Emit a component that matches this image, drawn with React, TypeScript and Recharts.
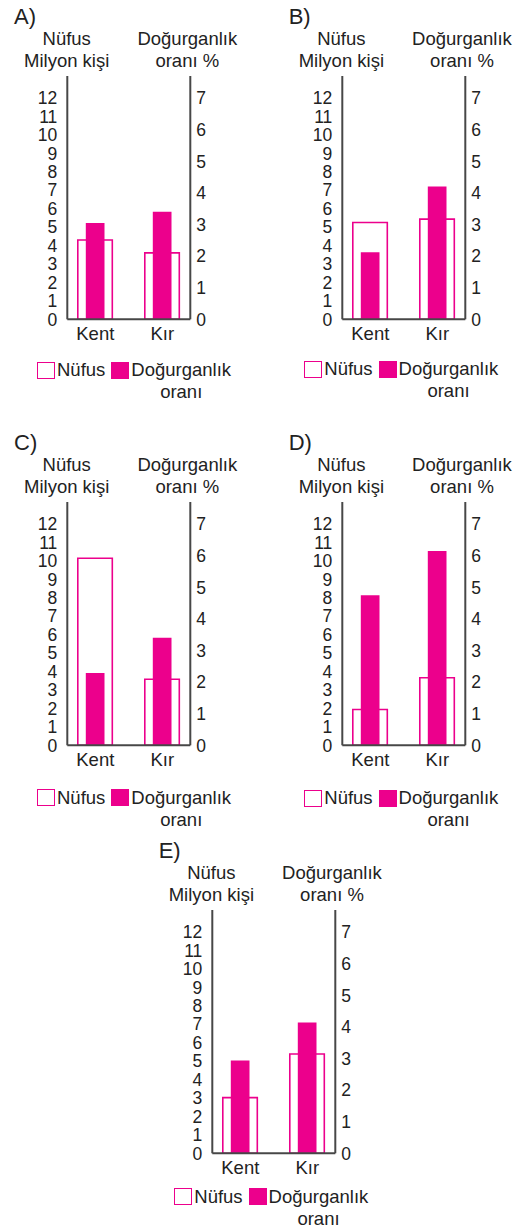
import React from 'react';
import { BarChart, Bar, XAxis, YAxis, Legend } from 'recharts';

const CATEGORIES = ['Kent', 'Kır'];
const OPTION_LABELS = ['A)', 'B)', 'C)', 'D)', 'E)'];
const NUFUS_A = [4.3, 3.6];
const DOG_A = [3.05, 3.4];
const NUFUS_B = [5.25, 5.43];
const DOG_B = [2.12, 4.2];
const NUFUS_C = [10.14, 3.58];
const DOG_C = [2.29, 3.4];
const NUFUS_D = [1.94, 3.66];
const DOG_D = [4.75, 6.15];
const NUFUS_E = [3.02, 5.38];
const DOG_E = [2.94, 4.14];
const LEFT_TICKS = [0, 1, 2, 3, 4, 5, 6, 7, 8, 9, 10, 11, 12];
const RIGHT_TICKS = [0, 1, 2, 3, 4, 5, 6, 7];
const LEFT_TITLE = ['Nüfus', 'Milyon kişi'];
const RIGHT_TITLE = ['Doğurganlık', 'oranı %'];
const NUFUS_NAME = 'Nüfus';
const DOG_NAME = 'Doğurganlık oranı';
const LEGEND_ORDER = ['nufus', 'dogurganlik'];

const FONT = '"Liberation Sans", Arial, Helvetica, sans-serif';
const PINK = '#EC008C';
const AXIS = '#474747';
const TEXT = '#222';
const W = 260;
const H = 396;
const PLOT_LEFT = 67.3;
const PLOT_RIGHT = 190.3;
const PLOT_TOP = 76;
const PLOT_BOTTOM = 319.3;
const YW = 45;
const XH = 30;

type Props = {
  label: string;
  nufus: number[];
  dog: number[];
  x: number;
  y: number;
  legendX: number;
  legendY: number;
};

function LegendContent(props: any) {
  const payload = [...(props.payload || [])].sort(
    (a: any, b: any) => LEGEND_ORDER.indexOf(a.dataKey) - LEGEND_ORDER.indexOf(b.dataKey)
  );
  return (
    <div style={{ display: 'flex', alignItems: 'flex-start', fontFamily: FONT, fontSize: 18.5, color: TEXT, whiteSpace: 'nowrap' }}>
      {payload.map((p: any, i: number) => {
        const hollow = p.dataKey === 'nufus';
        const words = String(p.value).split(' ');
        return (
          <div key={i} style={{ display: 'flex', alignItems: 'flex-start', marginLeft: i === 0 ? 0 : 6 }}>
            <div style={{ width: 18, height: 17, boxSizing: 'border-box', border: `1.6px solid ${PINK}`, background: hollow ? '#fff' : PINK }} />
            <div style={{ marginLeft: 2, marginTop: -2.5, lineHeight: '22px', textAlign: 'center' }}>
              {words.map((w, j) => (
                <div key={j}>{w}</div>
              ))}
            </div>
          </div>
        );
      })}
    </div>
  );
}

function OptionChart({ label, nufus, dog, x, y, legendX, legendY }: Props) {
  const data = CATEGORIES.map((c, i) => ({ kategori: c, nufus: nufus[i], dogurganlik: dog[i] }));
  const headerStyle: React.CSSProperties = {
    position: 'absolute',
    top: 28,
    transform: 'translateX(-50%)',
    textAlign: 'center',
    lineHeight: '22px',
    fontSize: 18.5,
    whiteSpace: 'nowrap',
  };
  return (
    <div style={{ position: 'absolute', left: x, top: y, width: W, height: H, fontFamily: FONT, color: TEXT }}>
      <div style={{ position: 'absolute', left: 14, top: 5, fontSize: 22, lineHeight: '24px' }}>{label}</div>
      <div style={{ ...headerStyle, left: PLOT_LEFT - 0.6 }}>
        {LEFT_TITLE.map((t) => (
          <div key={t}>{t}</div>
        ))}
      </div>
      <div style={{ ...headerStyle, left: PLOT_RIGHT - 3 }}>
        {RIGHT_TITLE.map((t) => (
          <div key={t}>{t}</div>
        ))}
      </div>
      <BarChart
        width={W}
        height={H}
        data={data}
        margin={{ top: PLOT_TOP, left: PLOT_LEFT - YW, right: W - PLOT_RIGHT - YW, bottom: H - PLOT_BOTTOM - XH }}
      >
        <XAxis
          xAxisId="main"
          dataKey="kategori"
          height={XH}
          padding={{ left: -5.5, right: -5.5 }}
          axisLine={{ stroke: AXIS, strokeWidth: 2 }}
          tickLine={false}
          tick={{ fontSize: 18.5, fill: TEXT, fontFamily: FONT }}
          interval={0}
        />
        <XAxis xAxisId="over" dataKey="kategori" hide padding={{ left: -5.5, right: -5.5 }} />
        <YAxis
          yAxisId="left"
          orientation="left"
          width={YW}
          type="number"
          domain={[0, 13.19]}
          ticks={LEFT_TICKS}
          interval={0}
          axisLine={{ stroke: AXIS, strokeWidth: 2 }}
          tickLine={false}
          tickMargin={4}
          tick={{ fontSize: 17.5, fill: TEXT, fontFamily: FONT }}
        />
        <YAxis
          yAxisId="right"
          orientation="right"
          width={YW}
          type="number"
          domain={[0, 7.7]}
          ticks={RIGHT_TICKS}
          interval={0}
          axisLine={{ stroke: AXIS, strokeWidth: 2 }}
          tickLine={false}
          tickMargin={0}
          tick={{ fontSize: 17.5, fill: TEXT, fontFamily: FONT, textAnchor: 'start' }}
        />
        <Bar
          xAxisId="main"
          yAxisId="left"
          dataKey="nufus"
          name={NUFUS_NAME}
          fill="#fff"
          stroke={PINK}
          strokeWidth={1.6}
          barSize={34.5}
          isAnimationActive={false}
        />
        <Bar
          xAxisId="over"
          yAxisId="right"
          dataKey="dogurganlik"
          name={DOG_NAME}
          fill={PINK}
          barSize={18.7}
          isAnimationActive={false}
        />
        <Legend
          layout="horizontal"
          verticalAlign="middle"
          align="center"
          content={<LegendContent />}
          wrapperStyle={{ left: legendX, top: legendY, width: 'auto', height: 'auto' }}
        />
      </BarChart>
    </div>
  );
}

const CHARTS = [
  { label: OPTION_LABELS[0], nufus: NUFUS_A, dog: DOG_A, x: 0, y: 0, legendX: 37, legendY: 361.7 },
  { label: OPTION_LABELS[1], nufus: NUFUS_B, dog: DOG_B, x: 274.7, y: 0, legendX: 29.6, legendY: 360.7 },
  { label: OPTION_LABELS[2], nufus: NUFUS_C, dog: DOG_C, x: 0, y: 425.7, legendX: 37, legendY: 363.6 },
  { label: OPTION_LABELS[3], nufus: NUFUS_D, dog: DOG_D, x: 274.7, y: 425.7, legendX: 29.6, legendY: 364.3 },
  { label: OPTION_LABELS[4], nufus: NUFUS_E, dog: DOG_E, x: 144.7, y: 834, legendX: 29.6, legendY: 354.3 },
];

export default function App() {
  return (
    <div style={{ position: 'absolute', left: 0, top: 0, width: 523, height: 1230, background: '#fff', overflow: 'hidden' }}>
      {CHARTS.map((c) => (
        <OptionChart key={c.label} {...c} />
      ))}
    </div>
  );
}
